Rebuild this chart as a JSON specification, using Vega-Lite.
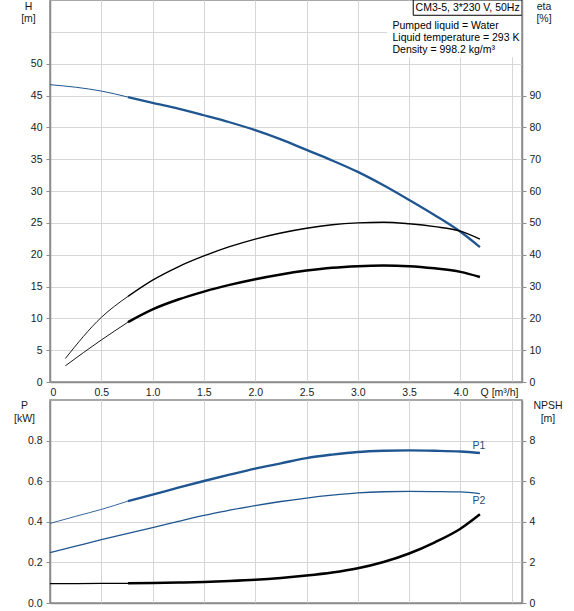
{
  "$schema": "https://vega.github.io/schema/vega-lite/v6.json",
  "padding": {"left": 12, "top": -2, "right": 0, "bottom": 0},
  "datasets": {
    "curves": [
      {"curve": "H", "part": "ext", "Q": 0, "v": 46.7},
      {"curve": "H", "part": "ext", "Q": 0.25, "v": 46.3},
      {"curve": "H", "part": "ext", "Q": 0.5, "v": 45.7},
      {"curve": "H", "part": "ext", "Q": 0.76, "v": 44.75},
      {"curve": "H", "part": "duty", "Q": 0.76, "v": 44.75},
      {"curve": "H", "part": "duty", "Q": 1.0, "v": 43.85},
      {"curve": "H", "part": "duty", "Q": 1.25, "v": 42.95},
      {"curve": "H", "part": "duty", "Q": 1.5, "v": 41.9},
      {"curve": "H", "part": "duty", "Q": 1.75, "v": 40.8},
      {"curve": "H", "part": "duty", "Q": 2.0, "v": 39.55},
      {"curve": "H", "part": "duty", "Q": 2.25, "v": 38.1},
      {"curve": "H", "part": "duty", "Q": 2.5, "v": 36.45},
      {"curve": "H", "part": "duty", "Q": 2.75, "v": 34.8},
      {"curve": "H", "part": "duty", "Q": 3.0, "v": 33.0},
      {"curve": "H", "part": "duty", "Q": 3.25, "v": 30.9},
      {"curve": "H", "part": "duty", "Q": 3.5, "v": 28.6},
      {"curve": "H", "part": "duty", "Q": 3.75, "v": 26.2},
      {"curve": "H", "part": "duty", "Q": 4.0, "v": 23.6},
      {"curve": "H", "part": "duty", "Q": 4.19, "v": 21.2},

      {"curve": "eta_pump", "part": "ext", "Q": 0.15, "v": 7.4},
      {"curve": "eta_pump", "part": "ext", "Q": 0.5, "v": 20.3},
      {"curve": "eta_pump", "part": "ext", "Q": 0.76, "v": 26.9},
      {"curve": "eta_pump", "part": "duty", "Q": 0.76, "v": 26.9},
      {"curve": "eta_pump", "part": "duty", "Q": 1.0, "v": 32.0},
      {"curve": "eta_pump", "part": "duty", "Q": 1.25, "v": 36.2},
      {"curve": "eta_pump", "part": "duty", "Q": 1.5, "v": 39.6},
      {"curve": "eta_pump", "part": "duty", "Q": 1.75, "v": 42.5},
      {"curve": "eta_pump", "part": "duty", "Q": 2.0, "v": 44.9},
      {"curve": "eta_pump", "part": "duty", "Q": 2.25, "v": 46.8},
      {"curve": "eta_pump", "part": "duty", "Q": 2.5, "v": 48.3},
      {"curve": "eta_pump", "part": "duty", "Q": 2.75, "v": 49.4},
      {"curve": "eta_pump", "part": "duty", "Q": 3.0, "v": 50.0},
      {"curve": "eta_pump", "part": "duty", "Q": 3.25, "v": 50.2},
      {"curve": "eta_pump", "part": "duty", "Q": 3.5, "v": 49.7},
      {"curve": "eta_pump", "part": "duty", "Q": 3.75, "v": 48.8},
      {"curve": "eta_pump", "part": "duty", "Q": 4.0, "v": 47.4},
      {"curve": "eta_pump", "part": "duty", "Q": 4.19, "v": 44.9},

      {"curve": "eta_total", "part": "ext", "Q": 0.15, "v": 5.1},
      {"curve": "eta_total", "part": "ext", "Q": 0.5, "v": 13.2},
      {"curve": "eta_total", "part": "ext", "Q": 0.76, "v": 18.8},
      {"curve": "eta_total", "part": "duty", "Q": 0.76, "v": 18.8},
      {"curve": "eta_total", "part": "duty", "Q": 1.0, "v": 22.8},
      {"curve": "eta_total", "part": "duty", "Q": 1.25, "v": 25.9},
      {"curve": "eta_total", "part": "duty", "Q": 1.5, "v": 28.4},
      {"curve": "eta_total", "part": "duty", "Q": 1.75, "v": 30.5},
      {"curve": "eta_total", "part": "duty", "Q": 2.0, "v": 32.3},
      {"curve": "eta_total", "part": "duty", "Q": 2.25, "v": 33.8},
      {"curve": "eta_total", "part": "duty", "Q": 2.5, "v": 35.0},
      {"curve": "eta_total", "part": "duty", "Q": 2.75, "v": 35.9},
      {"curve": "eta_total", "part": "duty", "Q": 3.0, "v": 36.4},
      {"curve": "eta_total", "part": "duty", "Q": 3.25, "v": 36.6},
      {"curve": "eta_total", "part": "duty", "Q": 3.5, "v": 36.4},
      {"curve": "eta_total", "part": "duty", "Q": 3.75, "v": 35.7},
      {"curve": "eta_total", "part": "duty", "Q": 4.0, "v": 34.6},
      {"curve": "eta_total", "part": "duty", "Q": 4.19, "v": 33.0},

      {"curve": "P1", "part": "ext", "Q": 0, "v": 0.392},
      {"curve": "P1", "part": "ext", "Q": 0.25, "v": 0.427},
      {"curve": "P1", "part": "ext", "Q": 0.5, "v": 0.461},
      {"curve": "P1", "part": "ext", "Q": 0.76, "v": 0.502},
      {"curve": "P1", "part": "duty", "Q": 0.76, "v": 0.502},
      {"curve": "P1", "part": "duty", "Q": 1.0, "v": 0.534},
      {"curve": "P1", "part": "duty", "Q": 1.25, "v": 0.568},
      {"curve": "P1", "part": "duty", "Q": 1.5, "v": 0.601},
      {"curve": "P1", "part": "duty", "Q": 1.75, "v": 0.632},
      {"curve": "P1", "part": "duty", "Q": 2.0, "v": 0.662},
      {"curve": "P1", "part": "duty", "Q": 2.25, "v": 0.688},
      {"curve": "P1", "part": "duty", "Q": 2.5, "v": 0.714},
      {"curve": "P1", "part": "duty", "Q": 2.75, "v": 0.731},
      {"curve": "P1", "part": "duty", "Q": 3.0, "v": 0.744},
      {"curve": "P1", "part": "duty", "Q": 3.25, "v": 0.75},
      {"curve": "P1", "part": "duty", "Q": 3.5, "v": 0.752},
      {"curve": "P1", "part": "duty", "Q": 3.75, "v": 0.75},
      {"curve": "P1", "part": "duty", "Q": 4.0, "v": 0.746},
      {"curve": "P1", "part": "duty", "Q": 4.19, "v": 0.739},

      {"curve": "P2", "part": "ext", "Q": 0, "v": 0.248},
      {"curve": "P2", "part": "ext", "Q": 0.25, "v": 0.28},
      {"curve": "P2", "part": "ext", "Q": 0.5, "v": 0.312},
      {"curve": "P2", "part": "ext", "Q": 0.76, "v": 0.343},
      {"curve": "P2", "part": "duty", "Q": 0.76, "v": 0.343},
      {"curve": "P2", "part": "duty", "Q": 1.0, "v": 0.371},
      {"curve": "P2", "part": "duty", "Q": 1.25, "v": 0.402},
      {"curve": "P2", "part": "duty", "Q": 1.5, "v": 0.432},
      {"curve": "P2", "part": "duty", "Q": 1.75, "v": 0.457},
      {"curve": "P2", "part": "duty", "Q": 2.0, "v": 0.48},
      {"curve": "P2", "part": "duty", "Q": 2.25, "v": 0.5},
      {"curve": "P2", "part": "duty", "Q": 2.5, "v": 0.517},
      {"curve": "P2", "part": "duty", "Q": 2.75, "v": 0.531},
      {"curve": "P2", "part": "duty", "Q": 3.0, "v": 0.542},
      {"curve": "P2", "part": "duty", "Q": 3.25, "v": 0.548},
      {"curve": "P2", "part": "duty", "Q": 3.5, "v": 0.55},
      {"curve": "P2", "part": "duty", "Q": 3.75, "v": 0.549},
      {"curve": "P2", "part": "duty", "Q": 4.0, "v": 0.547},
      {"curve": "P2", "part": "duty", "Q": 4.19, "v": 0.539},

      {"curve": "NPSH", "part": "ext", "Q": 0, "v": 0.955},
      {"curve": "NPSH", "part": "ext", "Q": 0.5, "v": 0.963},
      {"curve": "NPSH", "part": "ext", "Q": 0.76, "v": 0.97},
      {"curve": "NPSH", "part": "duty", "Q": 0.76, "v": 0.97},
      {"curve": "NPSH", "part": "duty", "Q": 1.0, "v": 0.985},
      {"curve": "NPSH", "part": "duty", "Q": 1.25, "v": 1.005},
      {"curve": "NPSH", "part": "duty", "Q": 1.5, "v": 1.035},
      {"curve": "NPSH", "part": "duty", "Q": 1.75, "v": 1.08},
      {"curve": "NPSH", "part": "duty", "Q": 2.0, "v": 1.14},
      {"curve": "NPSH", "part": "duty", "Q": 2.25, "v": 1.23},
      {"curve": "NPSH", "part": "duty", "Q": 2.5, "v": 1.35},
      {"curve": "NPSH", "part": "duty", "Q": 2.75, "v": 1.5},
      {"curve": "NPSH", "part": "duty", "Q": 3.0, "v": 1.71},
      {"curve": "NPSH", "part": "duty", "Q": 3.25, "v": 2.02},
      {"curve": "NPSH", "part": "duty", "Q": 3.5, "v": 2.44},
      {"curve": "NPSH", "part": "duty", "Q": 3.75, "v": 2.99},
      {"curve": "NPSH", "part": "duty", "Q": 4.0, "v": 3.66},
      {"curve": "NPSH", "part": "duty", "Q": 4.19, "v": 4.37}
    ],
    "powerLabels": [
      {"label": "P1", "Q": 4.18, "v": 0.772},
      {"label": "P2", "Q": 4.18, "v": 0.502}
    ]
  },
  "spacing": 0,
  "vconcat": [
    {
      "width": 472,
      "height": 382,
      "layer": [
        {
          "data": {"name": "curves"},
          "transform": [{"filter": "datum.curve == 'H'"}],
          "mark": {"type": "line", "color": "#1f5691", "interpolate": "monotone"},
          "encoding": {
            "x": {
              "field": "Q",
              "type": "quantitative",
              "scale": {"domain": [0, 4.6], "nice": false},
              "axis": {
                "values": [0, 0.5, 1, 1.5, 2, 2.5, 3, 3.5, 4, 4.5],
                "labelExpr": "datum.value == 0 ? '0' : (datum.value > 4.2 ? '' : format(datum.value, '.1f'))",
                "ticks": false,
                "labelPadding": 5,
                "title": "Q [m³/h]",
                "titleX": 449,
                "titleY": 5,
                "titleAlign": "center",
                "titleBaseline": "top"
              }
            },
            "y": {
              "field": "v",
              "type": "quantitative",
              "scale": {"domain": [0, 60], "nice": false},
              "axis": {
                "orient": "left",
                "values": [0, 5, 10, 15, 20, 25, 30, 35, 40, 45, 50, 55],
                "labelExpr": "datum.value > 50 ? '' : datum.label",
                "tickColor": {"condition": {"test": "datum.value > 50", "value": "transparent"}, "value": "#8c8c8c"},
                "labelPadding": 4,
                "title": ["H", "[m]"],
                "titleAngle": 0,
                "titleAlign": "center",
                "titleBaseline": "top",
                "titleX": -22,
                "titleY": 1,
                "titleLineHeight": 12.5
              }
            },
            "detail": {"field": "part"},
            "strokeWidth": {"condition": {"test": "datum.part == 'duty'", "value": 2.3}, "value": 1}
          }
        },
        {
          "data": {"name": "curves"},
          "transform": [{"filter": "datum.curve == 'eta_pump' || datum.curve == 'eta_total'"}],
          "mark": {"type": "line", "color": "#000000", "interpolate": "monotone"},
          "encoding": {
            "x": {"field": "Q", "type": "quantitative"},
            "y": {
              "field": "v",
              "type": "quantitative",
              "scale": {"domain": [0, 120], "nice": false},
              "axis": {
                "orient": "right",
                "values": [0, 10, 20, 30, 40, 50, 60, 70, 80, 90],
                "grid": false,
                "labelPadding": 3,
                "zindex": 1,
                "title": ["eta", "[%]"],
                "titleAngle": 0,
                "titleAlign": "center",
                "titleBaseline": "top",
                "titleX": 21.5,
                "titleY": 1,
                "titleLineHeight": 12.5
              }
            },
            "detail": [{"field": "curve"}, {"field": "part"}],
            "strokeWidth": {
              "condition": [
                {"test": "datum.curve == 'eta_total' && datum.part == 'duty'", "value": 2.5},
                {"test": "datum.part == 'duty'", "value": 1.4}
              ],
              "value": 0.9
            }
          }
        },
        {
          "data": {"values": [{}]},
          "mark": {"type": "rect", "fill": "#ffffff"},
          "encoding": {
            "x": {"datum": 3.285, "type": "quantitative"},
            "x2": {"datum": 4.59},
            "y": {"datum": 51, "type": "quantitative", "scale": {"domain": [0, 60], "nice": false}, "axis": null},
            "y2": {"datum": 59.85}
          }
        },
        {
          "data": {"values": [{}]},
          "mark": {"type": "rect", "fill": "#ffffff", "stroke": "#000000", "strokeWidth": 1},
          "encoding": {
            "x": {"datum": 3.54, "type": "quantitative"},
            "x2": {"datum": 4.6},
            "y": {"datum": 57.6, "type": "quantitative", "scale": {"domain": [0, 60], "nice": false}, "axis": null},
            "y2": {"datum": 60}
          }
        },
        {
          "data": {"values": [{}]},
          "mark": {"type": "text", "text": "CM3-5, 3*230 V, 50Hz", "align": "center", "baseline": "middle", "color": "#000000"},
          "encoding": {
            "x": {"datum": 4.07, "type": "quantitative"},
            "y": {"datum": 58.8, "type": "quantitative", "scale": {"domain": [0, 60], "nice": false}, "axis": null}
          }
        },
        {
          "data": {"values": [{}]},
          "mark": {
            "type": "text",
            "text": ["Pumped liquid = Water", "Liquid temperature = 293 K", "Density = 998.2 kg/m³"],
            "align": "left",
            "baseline": "top",
            "lineHeight": 12,
            "color": "#000000"
          },
          "encoding": {
            "x": {"datum": 3.338, "type": "quantitative"},
            "y": {"datum": 56.7, "type": "quantitative", "scale": {"domain": [0, 60], "nice": false}, "axis": null}
          }
        }
      ],
      "resolve": {"scale": {"y": "independent"}}
    },
    {
      "width": 472,
      "height": 203,
      "layer": [
        {
          "data": {"name": "curves"},
          "transform": [{"filter": "datum.curve == 'P1' || datum.curve == 'P2'"}],
          "mark": {"type": "line", "color": "#1f5691", "interpolate": "monotone"},
          "encoding": {
            "x": {
              "field": "Q",
              "type": "quantitative",
              "scale": {"domain": [0, 4.6], "nice": false},
              "axis": {
                "values": [0, 0.5, 1, 1.5, 2, 2.5, 3, 3.5, 4, 4.5],
                "labels": false,
                "ticks": false,
                "title": null
              }
            },
            "y": {
              "field": "v",
              "type": "quantitative",
              "scale": {"domain": [0, 1], "nice": false},
              "axis": {
                "orient": "left",
                "values": [0, 0.2, 0.4, 0.6, 0.8],
                "format": ".1f",
                "labelPadding": 4,
                "title": ["P", "[kW]"],
                "titleAngle": 0,
                "titleAlign": "center",
                "titleBaseline": "top",
                "titleX": -26,
                "titleY": 0,
                "titleLineHeight": 13
              }
            },
            "detail": [{"field": "curve"}, {"field": "part"}],
            "strokeWidth": {
              "condition": [
                {"test": "datum.curve == 'P1' && datum.part == 'duty'", "value": 2.4},
                {"test": "datum.curve == 'P2'", "value": 1.3}
              ],
              "value": 0.9
            }
          }
        },
        {
          "data": {"name": "curves"},
          "transform": [{"filter": "datum.curve == 'NPSH'"}],
          "mark": {"type": "line", "color": "#000000", "interpolate": "monotone"},
          "encoding": {
            "x": {"field": "Q", "type": "quantitative"},
            "y": {
              "field": "v",
              "type": "quantitative",
              "scale": {"domain": [0, 10], "nice": false},
              "axis": {
                "orient": "right",
                "values": [0, 2, 4, 6, 8],
                "grid": false,
                "labelPadding": 3,
                "zindex": 1,
                "title": ["NPSH", "[m]"],
                "titleAngle": 0,
                "titleAlign": "center",
                "titleBaseline": "top",
                "titleX": 25.5,
                "titleY": 0,
                "titleLineHeight": 13
              }
            },
            "detail": {"field": "part"},
            "strokeWidth": {"condition": {"test": "datum.part == 'duty'", "value": 2.5}, "value": 1.3}
          }
        },
        {
          "data": {"name": "powerLabels"},
          "mark": {"type": "text", "align": "center", "baseline": "middle", "color": "#1f4e79"},
          "encoding": {
            "x": {"field": "Q", "type": "quantitative"},
            "y": {"field": "v", "type": "quantitative", "scale": {"domain": [0, 1], "nice": false}, "axis": null},
            "text": {"field": "label"}
          }
        }
      ],
      "resolve": {"scale": {"y": "independent"}}
    }
  ],
  "config": {
    "font": "Liberation Sans",
    "view": {"stroke": "#8c8c8c", "strokeWidth": 1.5},
    "axis": {
      "labelFont": "Liberation Sans",
      "labelFontSize": 10.5,
      "labelColor": "#1a1a1a",
      "titleFont": "Liberation Sans",
      "titleFontSize": 10.5,
      "titleFontWeight": "normal",
      "titleColor": "#1a1a1a",
      "domainColor": "#8c8c8c",
      "domainWidth": 1.5,
      "tickColor": "#8c8c8c",
      "tickSize": 4,
      "gridColor": "#d6d6d6",
      "gridWidth": 1
    },
    "text": {"font": "Liberation Sans", "fontSize": 10.5}
  }
}
